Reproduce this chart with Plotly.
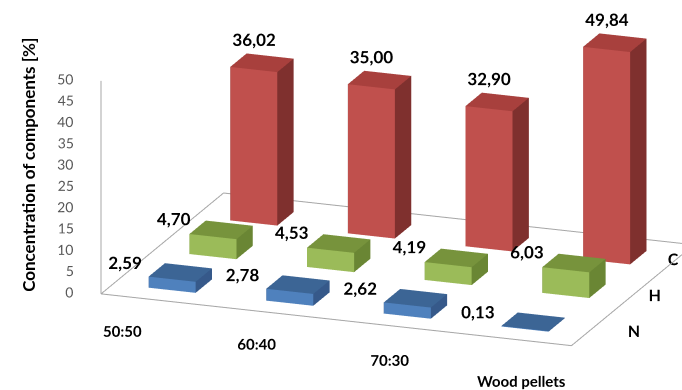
import plotly.graph_objects as go

# ---------------- data ----------------
categories = ["50:50", "60:40", "70:30", "Wood pellets"]
series = ["N", "H", "C"]
N_vals = [2.59, 2.78, 2.62, 0.13]
H_vals = [4.70, 4.53, 4.19, 6.03]
C_vals = [36.02, 35.00, 32.90, 49.84]
z_ticks = [0, 5, 10, 15, 20, 25, 30, 35, 40, 45, 50]

values = [N_vals, H_vals, C_vals]
# (front, top, side) face colours per series
colors = [
    ("#4F81BD", "#3C6595", "#36598A"),
    ("#9BBB59", "#77933C", "#6A8634"),
    ("#C0504D", "#A8403D", "#7F302E"),
]
FONT = "Lato"
bw, bd = 0.4, 0.4                      # bar width / depth (fraction of slot)
nx, ny = len(categories), len(series)
XR, YR, ZR = [-1.2, 4.2], [-2.0, 3.2], [-8.0, 56.0]
W, H = 682, 390

# label placement offsets (style)
cat_dx = [0.0, 0.125, 0.27, 0.456]
cat_y = [-1.42, -1.37, -1.41, -1.61]
ser_x = [3.68, 3.51, 3.32]

fig = go.Figure()


def box(xc, yc, h, cols):
    x0, x1 = xc - bw / 2, xc + bw / 2
    y0, y1 = yc - bd / 2, yc + bd / 2
    X = [x0, x1, x1, x0, x0, x1, x1, x0]
    Y = [y0, y0, y1, y1, y0, y0, y1, y1]
    Z = [0, 0, 0, 0, h, h, h, h]
    faces = [((0, 1, 5), (0, 5, 4), cols[0]),   # front
             ((4, 5, 6), (4, 6, 7), cols[1]),   # top
             ((1, 2, 6), (1, 6, 5), cols[2]),   # right side
             ((0, 3, 7), (0, 7, 4), cols[2]),
             ((3, 2, 6), (3, 6, 7), cols[2]),
             ((0, 1, 2), (0, 2, 3), cols[1])]
    I, J, K, FC = [], [], [], []
    for t1, t2, c in faces:
        for t in (t1, t2):
            I.append(t[0]); J.append(t[1]); K.append(t[2]); FC.append(c)
    return go.Mesh3d(x=X, y=Y, z=Z, i=I, j=J, k=K, facecolor=FC, flatshading=True,
                     hoverinfo="skip", showscale=False,
                     lighting=dict(ambient=1, diffuse=0, specular=0, roughness=1, fresnel=0))


for si, vals in enumerate(values):
    for ci, v in enumerate(vals):
        fig.add_trace(box(ci, si, v, colors[si]))

# floor outline and vertical axis line
line = dict(color="#A6A6A6", width=2)
fig.add_trace(go.Scatter3d(x=[-0.5, nx - 0.5, nx - 0.5, -0.5, -0.5],
                           y=[-0.5, -0.5, ny - 0.5, ny - 0.5, -0.5], z=[0] * 5,
                           mode="lines", line=line, hoverinfo="skip"))
fig.add_trace(go.Scatter3d(x=[-0.5, -0.5], y=[-0.5, -0.5], z=[0, z_ticks[-1]],
                           mode="lines", line=line, hoverinfo="skip"))

# value labels
fmt = lambda v: "<b>" + f"{v:.2f}".replace(".", ",") + "</b>"
vfont = dict(family=FONT, size=17, color="#000000")
fig.add_trace(go.Scatter3d(x=list(range(nx)), y=[2 - bd / 2] * nx,
                           z=[v + 1.0 for v in C_vals], mode="text",
                           text=[fmt(v) for v in C_vals], textposition="top center",
                           textfont=vfont, hoverinfo="skip"))
fig.add_trace(go.Scatter3d(x=[i - bw / 2 + 0.15 for i in range(nx)], y=[1 - bd / 2] * nx,
                           z=[v - 2.0 for v in H_vals], mode="text",
                           text=[fmt(v) for v in H_vals], textposition="top left",
                           textfont=vfont, hoverinfo="skip"))
fig.add_trace(go.Scatter3d(x=[i - bw / 2 + 0.08 for i in range(nx)], y=[0 - bd / 2] * nx,
                           z=[v - 2.5 for v in N_vals], mode="text",
                           text=[fmt(v) for v in N_vals], textposition="top left",
                           textfont=vfont, hoverinfo="skip"))

# axis tick labels
fig.add_trace(go.Scatter3d(x=[i + cat_dx[i] for i in range(nx)], y=cat_y, z=[0] * nx,
                           mode="text", text=["<b>" + c + "</b>" for c in categories],
                           textposition="middle center",
                           textfont=dict(family=FONT, size=15, color="#000000"), hoverinfo="skip"))
fig.add_trace(go.Scatter3d(x=ser_x, y=list(range(ny)), z=[0] * ny,
                           mode="text", text=["<b>" + s + "</b>" for s in series],
                           textposition="middle right",
                           textfont=dict(family=FONT, size=16, color="#000000"), hoverinfo="skip"))
fig.add_trace(go.Scatter3d(x=[-0.62] * len(z_ticks), y=[-0.5] * len(z_ticks), z=z_ticks,
                           mode="text", text=[str(t) for t in z_ticks],
                           textposition="middle left",
                           textfont=dict(family=FONT, size=14, color="#595959"), hoverinfo="skip"))

ax_hide = dict(showbackground=False, showgrid=False, zeroline=False, showline=False,
               showspikes=False, showticklabels=False, ticks="", title=dict(text=""))
fig.update_layout(
    width=W, height=H, margin=dict(l=0, r=0, t=0, b=0), paper_bgcolor="white",
    showlegend=False, font=dict(family=FONT),
    scene=dict(
        domain=dict(x=[0, 1], y=[0, 1]),
        xaxis=dict(ax_hide, range=XR), yaxis=dict(ax_hide, range=YR), zaxis=dict(ax_hide, range=ZR),
        aspectmode="manual", aspectratio=dict(x=3.4676, y=3.1716, z=1.4665),
        camera=dict(eye=dict(x=1.0557, y=-3.48874, z=1.07092),
                    center=dict(x=-0.2538, y=0.09386, z=-0.13328),
                    projection=dict(type="orthographic")),
    ),
    annotations=[dict(text="Concentration of components [%]", textangle=-90, xref="paper",
                      yref="paper", x=0.024, y=0.577, showarrow=False,
                      font=dict(family=FONT, size=17, color="#000000", weight="bold"))],
)
fig.write_html("out.html")
